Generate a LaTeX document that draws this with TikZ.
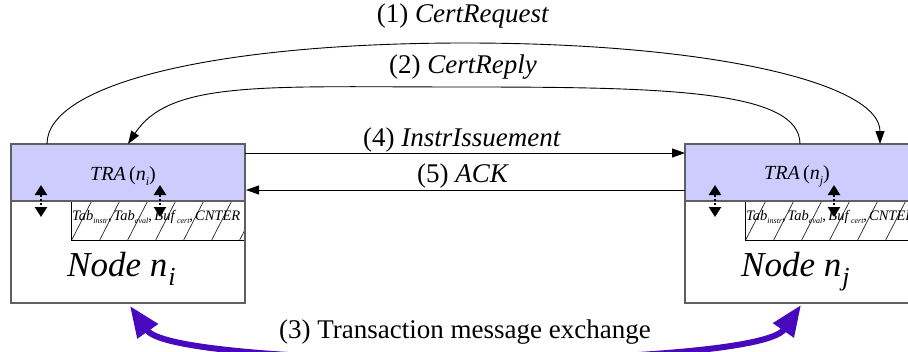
\documentclass[tikz,border=0pt]{standalone}
\usepackage{fontspec}
\setmainfont{Liberation Serif}
\usetikzlibrary{arrows.meta}
\definecolor{bandblue}{RGB}{204,204,255}
\definecolor{edgegray}{RGB}{95,95,95}
\definecolor{xpurple}{RGB}{72,8,190}
\newcommand{\lowsub}[2]{\raisebox{-#1}{#2}}

\begin{document}
\begin{tikzpicture}[x=1pt,y=-1pt,
  boxline/.style={draw=edgegray,line width=1.3pt},
  msg/.style={draw=black,line width=0.9pt,-{Triangle[length=13pt,width=9pt]}},
  lbl/.style={font=\fontsize{27}{29}\selectfont,inner sep=0pt},
  syncarrow/.style={line width=2.4pt,dash pattern=on 2.5pt off 1.6pt,
    {Triangle[length=10pt,width=12pt]}-{Triangle[length=10pt,width=12pt]}},
  hatchln/.style={draw=black!85,line width=0.7pt},
  tablbl/.style={anchor=base west,inner sep=0pt,font=\fontsize{14.5}{15}\selectfont\itshape},
  trabl/.style={inner sep=0pt,font=\fontsize{20}{22}\selectfont},
  nodelbl/.style={anchor=base west,inner sep=0pt,font=\fontsize{35}{37}\selectfont\itshape},
]
\useasboundingbox (0,0) rectangle (908,351);

% the two network nodes, each with its TRA band and table strip
\foreach \s/\x in {i/11,j/685}{
  \fill[bandblue] (\x,144) rectangle ++(234,57);
  \begin{scope}
    \clip (\x+60,201) rectangle ++(174,39);
    \foreach \k in {-1,...,7}
      \draw[hatchln] (\x+60.7+28*\k,240) -- ++(20,-39);
  \end{scope}
  \draw[black,line width=0.9pt] (\x+60,201) rectangle ++(174,39);
  \draw[boxline] (\x,144) rectangle ++(234,159);
  \draw[boxline] (\x,201) -- ++(234,0);
  \node[trabl] (tra\s) at (\x+112,176)
    {\textit{TRA}\,(\textit{n}\lowsub{5pt}{\fontsize{12}{12}\selectfont\textit{\s}})};
  \node[tablbl] (tab\s) at (\x+61,220)
    {Tab\lowsub{3.5pt}{\fontsize{8}{8}\selectfont instr}\upshape,\kern2pt\itshape Tab\lowsub{3.5pt}{\fontsize{8}{8}\selectfont eval}\upshape,\kern2.5pt\itshape Buf\kern2.5pt\lowsub{3.5pt}{\fontsize{8}{8}\selectfont cert}\upshape,\kern2pt\itshape CNTER};
  \node[nodelbl] (node\s) at (\x+56,276)
    {Node n\kern1pt\lowsub{9pt}{\fontsize{26}{26}\selectfont \s}};
  \coordinate (sa\s) at (\x+30,185);
  \coordinate (sb\s) at (\x+30,217);
  \coordinate (sc\s) at (\x+149,185);
  \coordinate (sd\s) at (\x+149,217);
  \draw[syncarrow] (sa\s) -- (sb\s);
  \draw[syncarrow] (sc\s) -- (sd\s);
}

% end points of the messages on the node boxes
\coordinate (reqA) at (47,144);
\coordinate (reqB) at (880,144);
\coordinate (repA) at (800,144);
\coordinate (repB) at (128,144);
\coordinate (insA) at (245,153);
\coordinate (insB) at (685,153);
\coordinate (ackA) at (685,190);
\coordinate (ackB) at (246,190);
\coordinate (txA) at (130,306);
\coordinate (txB) at (801,305);

% (1) and (2): certificate request and reply
\draw[msg] (reqA) .. controls (47,84) and (215,43) .. (465,43)
                  .. controls (715,43) and (880,84) .. (reqB);
\draw[msg] (repA) .. controls (800,90) and (664,87) .. (464,87)
                  .. controls (264,87) and (170,80) .. (repB);
% (4) and (5): instruction issuement and acknowledgement
\draw[msg] (insA) -- (insB);
\draw[msg] (ackA) -- (ackB);
% (3): transaction message exchange
\draw[xpurple,line width=6pt,
  {Triangle[length=31pt,width=24pt]}-{Triangle[length=31pt,width=24pt]}]
  (txA) .. controls (175,370) and (756,370) .. (txB);

\node[lbl] (l1) at (463,16) {(1) \textit{CertRequest}};
\node[lbl] (l2) at (463,67.5) {(2) \textit{CertReply}};
\node[lbl] (l4) at (462,140.5) {(4) \textit{InstrIssuement}};
\node[lbl] (l5) at (463,176) {(5) \textit{ACK}};
\node[lbl,fill=white,inner sep=2pt] (l3) at (465,332) {(3) Transaction message exchange};
\end{tikzpicture}
\end{document}
